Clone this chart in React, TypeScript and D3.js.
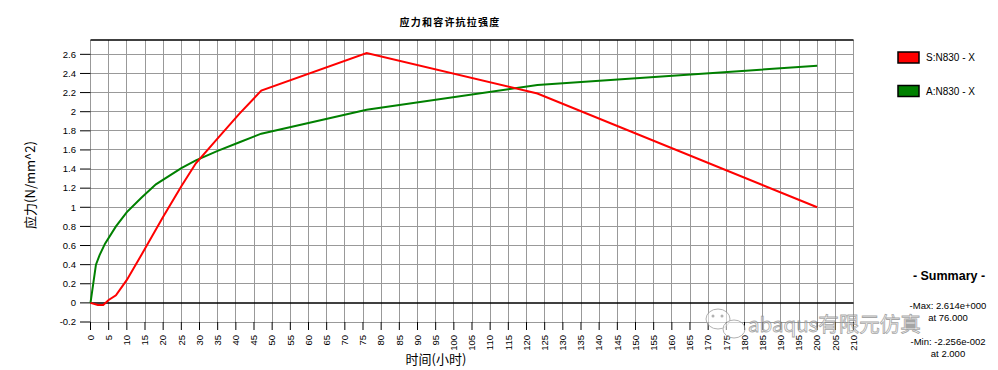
import React from 'react';
import * as d3 from 'd3';

// red series: S:N830 - X
const sTime = [0, 2, 3.5, 5, 7, 10, 14, 20, 25, 29, 35, 41, 47, 76, 123, 200];
const sValue = [0, -0.0226, -0.022, 0.03, 0.08, 0.24, 0.5, 0.9, 1.22, 1.46, 1.72, 1.98, 2.22, 2.614, 2.19, 1.0];

// green series: A:N830 - X
const aTime = [0, 1.5, 2.5, 4, 7, 10, 14, 18, 25, 29, 35, 41, 47, 76, 123, 200];
const aValue = [0, 0.4, 0.5, 0.62, 0.8, 0.95, 1.1, 1.24, 1.41, 1.49, 1.59, 1.68, 1.77, 2.02, 2.28, 2.48];

const xTicks = d3.range(0, 211, 5);
const yTicks = [-0.2, 0, 0.2, 0.4, 0.6, 0.8, 1, 1.2, 1.4, 1.6, 1.8, 2, 2.2, 2.4, 2.6];

const legendItems = [
  { name: 'S:N830 - X', color: '#ff0000' },
  { name: 'A:N830 - X', color: '#008000' },
];

const summaryLines = ['-Max: 2.614e+000', 'at  76.000', '-Min: -2.256e-002', 'at  2.000'];

const W = 998;
const H = 370;
const plot = { left: 90.5, right: 853.5, top: 40, bottom: 322 };
const tickFont = '"Liberation Sans", Arial, sans-serif';
const cjkFont = '"Noto Sans CJK SC", "Liberation Sans", sans-serif';

export default function App() {
  const x = d3.scaleLinear().domain([0, 210]).range([plot.left, plot.right]);
  const y = d3.scaleLinear().domain([-0.2, 2.75]).range([plot.bottom, plot.top]);

  const line = d3.line<[number, number]>()
    .x(d => x(d[0]))
    .y(d => y(d[1]));

  const sPts = sTime.map((t, i) => [t, sValue[i]] as [number, number]);
  const aPts = aTime.map((t, i) => [t, aValue[i]] as [number, number]);

  return (
    <svg width={W} height={H} style={{ position: 'absolute', left: 0, top: 0, background: '#fff' }}>
      <rect x={0} y={0} width={W} height={H} fill="#fff" />

      <text x={450} y={26} textAnchor="middle" fontFamily={cjkFont} fontSize={10} fontWeight="bold" letterSpacing={1.2} fill="#000">
        应力和容许抗拉强度
      </text>

      {/* grid */}
      <g stroke="#999" strokeWidth={1} shapeRendering="crispEdges">
        {xTicks.map(t => (
          <line key={'gx' + t} x1={x(t)} x2={x(t)} y1={plot.top} y2={plot.bottom} />
        ))}
        {yTicks.filter(v => v !== 0).map(v => (
          <line key={'gy' + v} x1={plot.left} x2={plot.right} y1={y(v)} y2={y(v)} />
        ))}
      </g>
      <line x1={plot.left} x2={plot.right} y1={y(0)} y2={y(0)} stroke="#000" strokeWidth={1.5} />
      <line x1={plot.left} x2={plot.right} y1={plot.top} y2={plot.top} stroke="#000" strokeWidth={1.5} />

      {/* y axis */}
      <g fontFamily={tickFont} fontSize={9.5} fill="#000">
        {yTicks.map(v => (
          <g key={'yt' + v}>
            <line x1={80} x2={plot.left} y1={y(v)} y2={y(v)} stroke="#000" strokeWidth={1} />
            <text x={76} y={y(v)} dy="0.35em" textAnchor="end">{String(v)}</text>
          </g>
        ))}
      </g>

      {/* x axis */}
      <g fontFamily={tickFont} fontSize={9.5} fill="#000">
        {xTicks.map(t => (
          <g key={'xt' + t}>
            <line x1={x(t)} x2={x(t)} y1={plot.bottom} y2={330} stroke="#000" strokeWidth={1} />
            <text transform={`translate(${x(t)},335) rotate(-90)`} dy="0.35em" textAnchor="end">{t}</text>
          </g>
        ))}
      </g>

      <text x={436} y={364} textAnchor="middle" fontFamily={cjkFont} fontSize={13} fill="#000">时间(小时)</text>
      <text transform="translate(35,185) rotate(-90)" textAnchor="middle" fontFamily={cjkFont} fontSize={13} fill="#000">应力(N/mm^2)</text>

      {/* series */}
      <path d={line(aPts) || ''} fill="none" stroke="#008000" strokeWidth={2} />
      <path d={line(sPts) || ''} fill="none" stroke="#ff0000" strokeWidth={2} />

      {/* legend */}
      {legendItems.map((it, i) => (
        <g key={it.name} transform={`translate(898,${52 + i * 33.5})`}>
          <rect x={0} y={0} width={21} height={11} fill={it.color} stroke="#000" strokeWidth={1.5} />
          <text x={28} y={5.5} dy="0.35em" fontFamily={tickFont} fontSize={10} fill="#000">{it.name}</text>
        </g>
      ))}

      {/* summary */}
      <text x={949} y={280} textAnchor="middle" fontFamily={tickFont} fontSize={12.5} fontWeight="bold" fill="#000">- Summary -</text>
      {summaryLines.map((s, i) => (
        <text key={s} x={948} y={[309, 321, 345, 357][i]} textAnchor="middle" fontFamily={tickFont} fontSize={9.5} fill="#000">{s}</text>
      ))}

      {/* watermark */}
      <g opacity={0.75}>
        <ellipse cx={718} cy={319} rx={12} ry={10} fill="#fff" fillOpacity={0.7} stroke="#999" strokeWidth={1} />
        <ellipse cx={734} cy={329} rx={11} ry={9} fill="#fff" fillOpacity={0.7} stroke="#999" strokeWidth={1} />
        <circle cx={713} cy={316} r={1.5} fill="#999" />
        <circle cx={722} cy={316} r={1.5} fill="#999" />
        <text x={748} y={332} fontFamily={cjkFont} fontSize={20.5} fill="#fff" fillOpacity={0.6} stroke="#888" strokeWidth={0.8}>abaqus有限元仿真</text>
      </g>
    </svg>
  );
}
